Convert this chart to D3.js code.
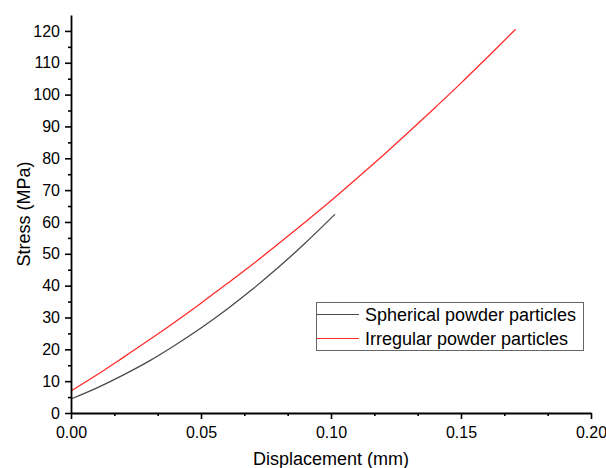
<!DOCTYPE html>
<html>
<head>
<meta charset="utf-8">
<script src="https://cdn.jsdelivr.net/npm/d3@7"></script>
<style>
  html, body { margin: 0; padding: 0; background: #fff; }
  svg { display: block; font-family: "Liberation Sans", Arial, sans-serif; }
</style>
</head>
<body>
<svg id="chart" width="606" height="468"></svg>
<script>
// Data
const displacementSpherical = [0, 0.01, 0.02, 0.03, 0.04, 0.05, 0.06, 0.07, 0.08, 0.09, 0.10, 0.1015];
const stressSpherical = [4.4, 7.9, 11.9, 16.3, 21.3, 26.7, 32.6, 39.0, 45.9, 53.3, 61.2, 62.4];
const displacementIrregular = [0, 0.01, 0.02, 0.03, 0.04, 0.05, 0.06, 0.07, 0.08, 0.09, 0.10, 0.11, 0.12, 0.13, 0.14, 0.15, 0.16, 0.171];
const stressIrregular = [6.9, 12.0, 17.4, 22.9, 28.6, 34.5, 40.6, 46.8, 53.3, 59.9, 66.7, 73.7, 80.9, 88.3, 95.9, 103.6, 111.6, 120.5];
const seriesNames = ["Spherical powder particles", "Irregular powder particles"];
const xTickValues = [0, 0.05, 0.10, 0.15, 0.20];
const yTickValues = [0, 10, 20, 30, 40, 50, 60, 70, 80, 90, 100, 110, 120];
const xLabel = "Displacement (mm)";
const yLabel = "Stress (MPa)";

const colors = ["#4a4a4a", "#ff2a2a"];

const svg = d3.select("#chart");

const x = d3.scaleLinear().domain([0, 0.20]).range([71, 591]);
const y = d3.scaleLinear().domain([0, 125]).range([413, 15]);

// Lines
const line = d3.line().x(d => x(d[0])).y(d => y(d[1])).curve(d3.curveMonotoneX);
const series = [
  d3.zip(displacementSpherical, stressSpherical),
  d3.zip(displacementIrregular, stressIrregular)
];
series.forEach((s, i) => {
  svg.append("path")
    .datum(s)
    .attr("fill", "none")
    .attr("stroke", colors[i])
    .attr("stroke-width", 1.3)
    .attr("d", line);
});

// Axes
const yMinor = d3.range(5, 125, 10);
const xMinorVals = d3.range(1, 12).filter(i => i % 3 !== 0).map(i => i * 0.2 / 12);

const xAxisG = svg.append("g").attr("transform", "translate(0,413)");
xAxisG.call(d3.axisBottom(x).tickValues(xTickValues).tickFormat(d3.format(".2f")).tickSize(6).tickPadding(4).tickSizeOuter(0));
const xMinorG = svg.append("g").attr("transform", "translate(0,413)");
xMinorG.call(d3.axisBottom(x).tickValues(xMinorVals).tickFormat("").tickSize(3).tickSizeOuter(0));
xMinorG.select(".domain").remove();

const yAxisG = svg.append("g").attr("transform", "translate(71,0)");
yAxisG.call(d3.axisLeft(y).tickValues(yTickValues).tickSize(6).tickPadding(5).tickSizeOuter(0));
const yMinorG = svg.append("g").attr("transform", "translate(71,0)");
yMinorG.call(d3.axisLeft(y).tickValues(yMinor).tickFormat("").tickSize(3).tickSizeOuter(0));
yMinorG.select(".domain").remove();

svg.selectAll(".domain").attr("stroke", "#000").attr("stroke-width", 1.8);
svg.selectAll(".tick line").attr("stroke", "#000").attr("stroke-width", 1.6);
svg.selectAll(".tick text").attr("fill", "#000").style("font-size", "16px").style("font-family", "'Liberation Sans', Arial, sans-serif");
xAxisG.selectAll(".tick text").attr("dy", "0.95em");

// Axis titles
svg.append("text")
  .attr("x", (x(0) + x(0.2)) / 2)
  .attr("y", 465)
  .attr("text-anchor", "middle")
  .style("font-size", "18px")
  .attr("fill", "#000")
  .text(xLabel);

svg.append("text")
  .attr("transform", `translate(30,${(y(0) + y(125)) / 2}) rotate(-90)`)
  .attr("text-anchor", "middle")
  .style("font-size", "18px")
  .attr("fill", "#000")
  .text(yLabel);

// Legend
const lg = svg.append("g");
lg.append("rect")
  .attr("x", 316.5).attr("y", 302.5)
  .attr("width", 267).attr("height", 48)
  .attr("fill", "#fff")
  .attr("stroke", "#666")
  .attr("stroke-width", 1);
seriesNames.forEach((name, i) => {
  const cy = 314.5 + i * 24;
  lg.append("line")
    .attr("x1", 317).attr("x2", 359)
    .attr("y1", cy).attr("y2", cy)
    .attr("stroke", colors[i]).attr("stroke-width", 1.2);
  lg.append("text")
    .attr("x", 365).attr("y", cy)
    .attr("dy", "0.35em")
    .style("font-size", "18px")
    .attr("fill", "#000")
    .text(name);
});
</script>
</body>
</html>
